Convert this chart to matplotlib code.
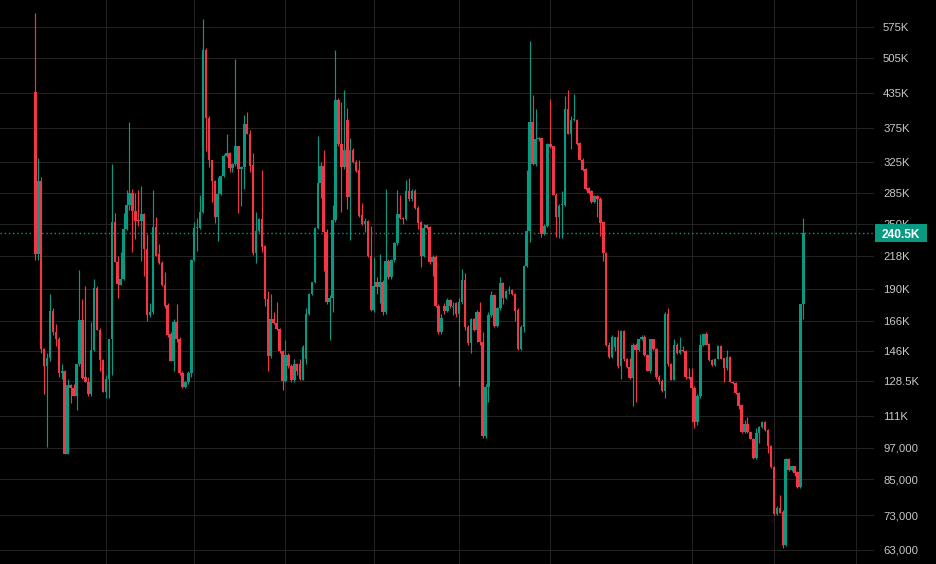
import numpy as np
import matplotlib
matplotlib.use("Agg")
import matplotlib.pyplot as plt
from matplotlib.patches import Rectangle
from matplotlib.transforms import IdentityTransform

# candle data, prices in thousands
opens = [
    437, 220, 300, 147.5, 137, 142, 173, 158, 153.5, 133,
    134.3, 94.6, 126.6, 124.8, 121, 138, 166.7, 131, 128.3, 121.6,
    146.5, 191, 160, 140.6, 122.6, 130, 153.5, 252, 213, 193.5,
    198, 245, 271, 285, 264, 254, 253, 261, 225, 170,
    172, 247, 220, 212, 193.5, 177.5, 157, 140, 165, 153.5,
    133.4, 125.7, 128, 133, 215, 246, 246, 263, 522, 392,
    327, 300, 257, 284, 306, 333, 338, 317, 322, 347,
    316, 318, 381, 366, 321, 221, 243, 255, 228, 182,
    143, 167.5, 164.5, 160.5, 146.4, 128.6, 143.5, 137, 129, 138.5,
    138, 129.5,
    141.3, 171, 186, 195.8, 246, 297.6, 320, 242, 180, 183,
    254, 422, 350, 318, 388, 280, 342, 325, 314, 260,
    250, 253, 218.5, 174, 195.5, 191.6, 195.5, 172.5, 214, 199.6,
    215, 230.6, 261, 256.5, 255, 287, 278, 287, 268, 252,
    218.5, 248.5, 246.5, 213, 217.5, 177, 158, 177, 173, 181,
    176, 179, 170.5, 179.5, 197, 161.5, 151, 167, 160, 172,
    152, 102, 125.6, 170, 185, 162.5, 175, 195, 182.6, 188,
    189, 186, 174, 147.5, 162, 209, 243, 384, 322, 358,
    359, 240, 248, 350, 347, 283, 258, 271, 271, 407,
    366, 388, 388, 352, 328, 316, 291, 287, 274.5,
    281, 278, 251.6, 221, 150, 142.7, 148.6, 154.7, 137, 159,
    141.3, 136.6, 130.5, 150, 146.5, 153.5, 155, 143.6, 134.3, 153.5,
    147.6, 131, 128.5, 123.6, 171, 138.4, 129.3, 150, 145, 147,
    146.4, 131, 131, 125, 108.3, 121, 150, 157, 150.4, 140.6,
    137.5, 141.5, 149.2, 141.7, 135.8, 142.4, 128, 127.7, 122.2, 116.3,
    103.8, 107.2, 103.8, 100.9, 92.9, 103.4, 106, 108, 104.5, 97.9,
    89.4, 73.2, 75.3, 74, 64.4, 92.6, 88.5, 89.7, 87.6, 82.2,
    178,
]
highs = [
    611, 330, 305, 148, 145, 186, 175, 164, 155, 138.5,
    135, 129.7, 127, 127, 138, 206, 182, 192, 131, 165,
    198, 192, 161, 141, 132, 154, 322, 262, 218.5, 222,
    262, 288, 385, 290, 285, 288, 293, 262, 240, 179,
    288, 257, 230, 214, 204, 179, 158, 167, 178, 155,
    134, 128.5, 134, 216, 252, 256, 283, 595, 525, 395,
    328, 301, 305, 308, 336, 365, 339, 323, 503, 348,
    320, 396, 402, 372, 338, 263, 256, 314, 229, 188,
    186, 172, 180, 161, 147, 153, 145, 138, 141, 139,
    141, 150,
    175, 187, 196, 247, 363, 325, 342, 245, 185, 271,
    522, 425, 419, 441, 408, 359, 345, 327, 328, 273,
    256, 254, 248, 217, 200, 220, 197, 290, 216, 216,
    232, 288, 283, 258, 301, 303, 290, 290, 270, 253,
    250, 250, 248, 219, 219, 178, 171, 179, 183, 182,
    180, 180, 183, 207, 203, 163, 168, 168, 174, 180,
    158, 127, 172, 188, 186, 176, 200, 196, 189, 192,
    190, 187, 175, 163, 210, 314, 542, 431, 407, 361,
    360, 250, 352, 424, 348, 285, 272, 287, 429, 441,
    394, 433, 390, 354, 330, 317, 292, 288, 282,
    282, 280, 252, 222, 152, 156, 155, 160, 160, 160,
    142, 142, 151, 151, 154, 156, 156, 144, 154, 154,
    148, 132, 130, 172, 175, 139, 154, 151, 155, 149,
    147, 136, 136, 126, 122, 157, 157, 158, 151, 141,
    142, 150, 150, 142, 146.5, 143, 128.5, 128, 123, 117,
    109, 110.7, 104, 101, 105.5, 106.5, 108.5, 108.5, 105, 98,
    90, 76, 79.6, 74.5, 93, 93, 90, 90, 88, 178,
    256,
]
lows = [
    215, 215, 145, 122, 97.5, 140, 156, 149, 131, 130,
    94.6, 94.6, 117.5, 121, 114, 137, 130, 128, 121, 121,
    146, 160, 134, 122.6, 119.8, 119.8, 132, 213, 183, 193,
    197, 244, 265, 222, 235, 248, 214, 201, 166, 169,
    171, 218, 211, 192, 175, 155, 140, 134, 152, 132,
    125, 125, 127, 131, 214, 223, 245, 262, 340, 318,
    274, 251, 233, 282, 305, 332, 312, 312, 320, 262,
    270, 290, 365, 311, 219, 212, 242, 222, 177, 134,
    142, 164, 160, 145, 124, 128, 136, 128, 128, 132,
    129, 129,
    138, 170, 185, 195, 245, 279, 205, 178, 153, 172,
    252, 348, 263, 315, 266, 234, 323, 311, 258, 249,
    242, 217, 173, 172, 186, 179, 170, 171, 198, 198,
    213, 229, 255, 250, 254, 276, 276, 266, 245, 208,
    217, 245, 211, 201, 176, 157, 157, 171, 172, 175,
    170, 169, 126, 178, 160, 150, 145, 159, 152, 150,
    101, 101, 118, 169, 162, 162, 174, 178, 182, 186,
    185, 166, 147, 147, 158, 208, 232, 321, 320, 355,
    237, 239, 247, 345, 282, 237, 236, 236, 270, 365,
    343, 387, 349, 327, 313, 289, 284, 273, 273,
    258, 238, 214, 149, 142, 142, 146, 136, 130, 140,
    136, 130, 116, 118, 146, 153, 143, 134, 133, 147,
    130, 127, 123, 120, 137, 129, 129, 144, 144, 145.5,
    130, 130, 108, 105.5, 107, 120, 149, 150, 140, 137,
    137, 141, 141, 128, 135, 128, 127, 122, 114.5, 103.5,
    103.5, 103.5, 100.5, 92.5, 92.5, 99, 105.5, 104, 94.9, 89,
    73, 73, 73.5, 63.6, 64, 88, 88, 86, 82, 82,
    167,
]
closes = [
    220, 300, 147.5, 137, 142, 173, 158, 153.5, 133, 134,
    94.6, 126.6, 124.8, 121, 138, 166.7, 130.6, 128.3, 121.6, 146.5,
    191, 160, 140.6, 122.6, 130, 153.5, 252, 213, 194, 198,
    245, 271, 285, 264, 253, 253.5, 261, 225, 170, 172,
    247, 218.5, 212, 193.5, 177, 156, 140.2, 165, 153.5, 133,
    125.7, 128, 133.4, 215, 246, 246.5, 263, 522, 392, 327,
    300, 257, 284, 306, 333, 338, 317, 322, 347, 316,
    318, 381, 366, 320, 221, 243, 255, 227, 182, 143,
    167.5, 164.5, 160.5, 146, 128.6, 143.5, 137, 129, 138.5, 134,
    130, 148.6,
    171, 186, 195.5, 246, 297.6, 320, 242, 180, 183, 254,
    422, 350, 318, 342, 280, 342, 325, 313, 259, 250,
    253, 218, 174, 192, 191.6, 195.5, 172.5, 214, 199.6, 215,
    230.6, 261, 256.5, 255, 287, 278, 287, 267, 251, 218.5,
    246, 246, 213, 217.5, 177, 158, 168, 173, 181, 176.5,
    177, 170.5, 179.5, 197, 161.5, 151, 167, 160, 172, 152,
    102, 125.6, 170, 185, 162.5, 175, 195, 182.6, 188, 189,
    186, 173, 147.5, 162, 209, 243, 384, 322, 358, 359,
    240, 248, 350, 346, 283, 258, 270, 271, 407, 366,
    388, 389, 350, 328, 314, 290, 285, 274.5, 281,
    278, 251, 221, 150, 142.7, 154.7, 154.7, 137, 159, 141.3,
    136.6, 130.5, 150, 146.5, 153.5, 155, 143.6, 134.3, 153.5, 147.6,
    131, 128.1, 123.6, 171, 138.4, 129.3, 150, 145, 147, 146,
    131, 130.5, 124.8, 108.3, 121, 150, 157, 150, 140.6, 137.5,
    141.5, 149.2, 141.2, 135.8, 142.4, 128.1, 127.4, 122.2, 116, 103.8,
    107.2, 103.8, 100.6, 92.9, 103.4, 106, 108, 104.5, 97.6, 89.3,
    73.2, 75.3, 73.8, 64.4, 92.6, 88.5, 89.7, 87.2, 82.2, 178,
    240.5,
]

price_ticks = [575, 505, 435, 375, 325, 285, 250, 218, 190, 166, 146,
               128.5, 111, 97, 85, 73, 63]
price_labels = ['575K', '505K', '435K', '375K', '325K', '285K', '250K',
                '218K', '190K', '166K', '146K', '128.5K', '111K',
                '97,000', '85,000', '73,000', '63,000']
time_grid = [24, 54, 85, 115, 144, 175, 223, 251, 279]
last_price = 240.5
last_label = '240.5K'

GREEN = '#089981'
RED = '#f23645'
GRID = '#222222'
TXT = '#c8c8c8'

plt.rcParams['font.family'] = ['Liberation Sans', 'DejaVu Sans']

o = np.array(opens)
h = np.array(highs)
l = np.array(lows)
c = np.array(closes)
x = np.arange(len(o))
up = c >= o
cols = np.where(up, GREEN, RED)

fig = plt.figure(figsize=(9.36, 5.64), dpi=100, facecolor='black')
ax = fig.add_axes([0, 0, 874 / 936, 1])
ax.set_facecolor('black')

# wicks and bodies
ax.vlines(x, l, h, colors=cols, linewidth=0.85, zorder=3)
bot = np.minimum(o, c)
top = np.maximum(np.maximum(o, c), bot * 1.004)
ax.bar(x, top - bot, bottom=bot, width=0.86, color=cols, linewidth=0, zorder=4)

ax.set_yscale('log')
ax.set_ylim(59.36, 644.5)
ax.set_xlim(-12.0, 285.0)

ax.set_yticks(price_ticks)
ax.set_yticklabels(price_labels)
ax.yaxis.set_minor_locator(matplotlib.ticker.NullLocator())
ax.yaxis.tick_right()
ax.tick_params(axis='y', length=0, pad=6.5, labelsize=8.2, labelcolor=TXT)
ax.set_xticks(time_grid)
ax.tick_params(axis='x', length=0, labelbottom=False)
ax.grid(True, color=GRID, linewidth=0.75)
ax.set_axisbelow(True)
for s in ax.spines.values():
    s.set_visible(False)

# last price line and label
ax.axhline(last_price, color=GREEN, linewidth=1.0, linestyle=(0, (1, 2)), zorder=2)
fig.canvas.draw()
_, py = ax.transData.transform((0, last_price))
fig.add_artist(Rectangle((875, py - 9), 52, 18, transform=IdentityTransform(),
                         facecolor=GREEN, edgecolor='none', zorder=5))
fig.text(901, py, last_label, transform=IdentityTransform(), color='white',
         fontsize=8.6, fontweight='bold', ha='center', va='center_baseline', zorder=6)

fig.savefig('out.png', dpi=100, facecolor='black')
